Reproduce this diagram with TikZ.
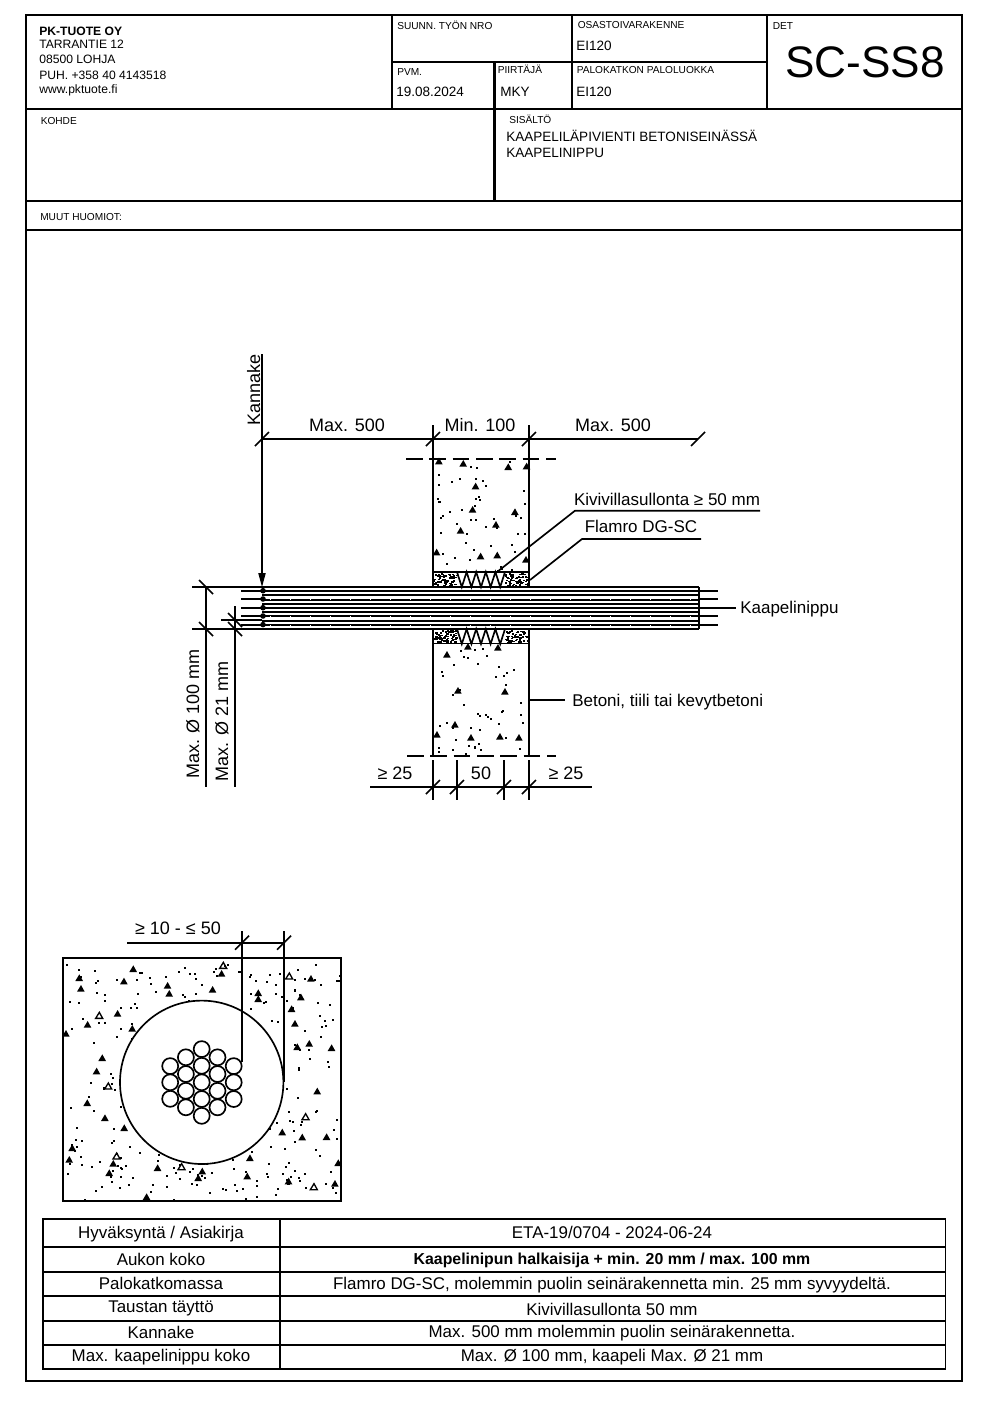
\documentclass[tikz,border=0pt]{standalone}
\usepackage{fontspec}
\setmainfont{Liberation Sans}

\newcommand{\dimslash}[1]{\draw[thinline] (#1) +(-7,7) -- +(7,-7);}
\newcommand{\dimback}[1]{\draw[thinline] (#1) +(-7,-7) -- +(7,7);}
\newcommand{\sealzig}[1]{\draw[thinline] (457,#1) \foreach \t in {1,...,5} {-- ++(4.8,15) -- ++(4.8,-15)};}
\newcommand{\sealdots}[3]{\foreach \t in {1,...,75} {
    \pgfmathsetmacro{\dotx}{#1+rnd*23.5}
    \pgfmathsetmacro{\doty}{#2+rnd*#3}
    \fill (\dotx,\doty) rectangle ++(2,1.5);}}
\newcommand{\rnddots}[5]{\foreach \t in {1,...,#5} {
    \pgfmathsetmacro{\dotx}{#1+rnd*#3}
    \pgfmathsetmacro{\doty}{#2+rnd*#4}
    \fill (\dotx,\doty) rectangle ++(2,2);}}

\begin{document}
\begin{tikzpicture}[x=.75pt,y=-.75pt,
    heavy/.style={line width=1.9pt},
    frameline/.style={line width=1.2pt},
    tableline/.style={line width=1.4pt},
    thinline/.style={line width=1.25pt},
    cable/.style={line width=1.5pt},
    cutline/.style={line width=1.25pt,dash pattern=on 12.5pt off 5pt},
    small text/.style={font=\fontsize{7.6}{8}\selectfont,anchor=base west,inner sep=0pt},
    head text/.style={font=\fontsize{9.1}{10}\selectfont,anchor=base west,inner sep=0pt},
    field text/.style={font=\fontsize{10.15}{11}\selectfont,anchor=base west,inner sep=0pt},
    dim text/.style={font=\fontsize{13.5}{14}\selectfont,anchor=base,inner sep=0pt},
    note text/.style={font=\fontsize{12.75}{14}\selectfont,anchor=base,inner sep=0pt},
    row text/.style={font=\fontsize{12.7}{14}\selectfont,anchor=base,inner sep=0pt}]

  \useasboundingbox (0,0) rectangle (992,1403);
  \fill[white] (0,0) rectangle (992,1403);

  % title block
  \draw[frameline] (26,15) rectangle (962,1381);
  \draw[heavy] (26,15) rectangle (962,230);
  \draw[heavy] (26,109) -- (962,109);
  \draw[heavy] (26,201) -- (962,201);
  \draw[heavy] (392,15) -- (392,109);
  \draw[heavy] (392,62) -- (767,62);
  \draw[heavy] (494.5,62) -- (494.5,201);
  \draw[heavy] (572,15) -- (572,109);
  \draw[heavy] (767,15) -- (767,109);

  \node[head text,font=\fontsize{9.1}{10}\selectfont\bfseries] (firm) at (39,35.5) {PK-TUOTE OY};
  \node[head text] (street) at (39,48.5) {TARRANTIE 12};
  \node[head text] (city) at (39,63.5) {08500 LOHJA};
  \node[head text] (phone) at (39,79) {PUH. +358 40 4143518};
  \node[head text] (web) at (39,93) {www.pktuote.fi};

  \node[small text] (suunn) at (397,29) {SUUNN. TYÖN NRO};
  \node[small text] (pvm) at (397,75) {PVM.};
  \node[field text] (date) at (396,96) {19.08.2024};
  \node[small text] (piirtaja) at (497.5,73.5) {PIIRTÄJÄ};
  \node[field text] (drawer) at (500,96) {MKY};
  \node[small text] (osasto) at (577.5,28) {OSASTOIVARAKENNE};
  \node[field text] (osastoval) at (576,50) {EI120};
  \node[small text] (paloluokka) at (576.5,73.5) {PALOKATKON PALOLUOKKA};
  \node[field text] (palovalue) at (576,96.5) {EI120};
  \node[small text] (det) at (772.5,29) {DET};
  \node[anchor=base west,inner sep=0pt,font=\fontsize{33.1}{34}\selectfont] (detno) at (785,77) {SC-SS8};
  \node[small text] (kohde) at (40.5,124) {KOHDE};
  \node[small text] (sisalto) at (509,123) {SISÄLTÖ};
  \node[field text] (sisaltoa) at (506,141.5) {KAAPELILÄPIVIENTI BETONISEINÄSSÄ};
  \node[field text] (sisaltob) at (506,157.5) {KAAPELINIPPU};
  \node[small text] (muut) at (40,220) {MUUT HUOMIOT:};

  % wall section
  \pgfmathsetseed{41}
  \rnddots{435}{461}{92}{110}{48}
  \rnddots{435}{645}{92}{110}{48}
  \begin{scope}[shift={(420,410)},x=.25pt,y=-.25pt]
    \foreach \p in {(57,155),(130,162),(265,172),(320,170),(167,230),(158,300),(285,307),
        (228,345),(122,363),(50,428),(182,440),(232,437),(318,450)}
      \fill \p +(-12,8) -- +(0,-12) -- +(11,8) -- cycle;
  \end{scope}
  \begin{scope}[x=.25pt,y=-.25pt]
    \foreach \p in {(1341,1965),(1404,1941),(1494,1944),(1374,2073),(1515,2076),(1365,2175),
        (1311,2205),(1413,2214),(1500,2211),(1557,2214)}
      \fill \p +(-12,8) -- +(0,-12) -- +(11,8) -- cycle;
  \end{scope}

  \sealdots{433}{573}{13}
  \sealdots{505}{573}{13}
  \sealdots{433}{630}{12}
  \sealdots{505}{630}{12}
  \sealzig{572}
  \sealzig{629}

  \draw[thinline] (433,425) -- (433,587);
  \draw[thinline] (529,425) -- (529,587);
  \draw[thinline] (433,629) -- (433,756);
  \draw[thinline] (529,629) -- (529,756);
  \draw[thinline] (433,572) -- (529,572);
  \draw[thinline] (433,643.5) -- (529,643.5);
  \draw[cutline] (406,459) -- (556,459);
  \draw[cutline] (407,756) -- (556,756);

  % cable bundle
  \foreach \n in {0,...,10}
    \draw[cable] (262,{587+\n*4.2}) -- (699,{587+\n*4.2});
  \foreach \n in {598.9,616,625}
    \draw[white,line width=.6pt,dash pattern=on 1pt off 14pt] (270,\n) -- (695,\n);
  \foreach \n in {590.7,599,607.7,616,624.6} {
    \draw[cable] (241,\n) -- (262,\n);
    \fill (263,\n) circle (2.8);
  }
  \foreach \n in {590.7,599,616,624.6}
    \draw[cable] (699,\n) -- (718,\n);
  \draw[heavy] (699,587) -- (699,629);

  % dimensions
  \coordinate (kantop) at (262,354);
  \coordinate (kantip) at (262,587);
  \coordinate (dimend) at (698,439);
  \coordinate (dimleft) at (262,439);
  \coordinate (dimwalla) at (433,439);
  \coordinate (dimwallb) at (529,439);
  \draw[thinline] (kantop) -- (262,574);
  \fill (258.2,573) -- (265.8,573) -- (kantip) -- cycle;
  \draw[thinline] (dimleft) -- (dimend);
  \dimslash{dimleft}
  \dimslash{dimwalla}
  \dimslash{dimwallb}
  \dimslash{dimend}
  \node[dim text,rotate=90] (kannake) at (260,390) {Kannake};
  \node[dim text] (maxa) at (347,431) {Max. 500};
  \node[dim text] (minb) at (480,431) {Min. 100};
  \node[dim text] (maxc) at (613,431) {Max. 500};

  \coordinate (lowa) at (433,787);
  \coordinate (lowb) at (457,787);
  \coordinate (lowc) at (504,787);
  \coordinate (lowd) at (529,787);
  \draw[thinline] (370,787) -- (592,787);
  \foreach \q in {lowa,lowb,lowc,lowd} {
    \draw[thinline] (\q) +(0,-27) -- +(0,13);
    \dimslash{\q}
  }
  \node[dim text] (gea) at (395,779) {≥ 25};
  \node[dim text] (mid) at (481,779) {50};
  \node[dim text] (geb) at (566,779) {≥ 25};

  \coordinate (bunta) at (206,587);
  \coordinate (buntb) at (206,629);
  \coordinate (cabta) at (235,620);
  \coordinate (cabtb) at (235,629);
  \draw[thinline] (192,587) -- (262,587);
  \draw[thinline] (192,629) -- (262,629);
  \draw[thinline] (221,620) -- (262,620);
  \draw[thinline] (bunta) -- (206,787);
  \draw[thinline] (235,606) -- (235,787);
  \dimback{bunta}
  \dimback{buntb}
  \dimback{cabta}
  \dimback{cabtb}
  \node[dim text,rotate=90] (maxbundle) at (199,714) {Max. Ø 100 mm};
  \node[dim text,rotate=90] (maxcable) at (228,721.5) {Max. Ø 21 mm};

  % leaders
  \coordinate (kivitip) at (497,572);
  \coordinate (kivibend) at (575,510.7);
  \coordinate (kiviend) at (760,510.7);
  \coordinate (flamtip) at (530,580);
  \coordinate (flambend) at (582,539);
  \coordinate (flamend) at (701,539);
  \coordinate (bundtip) at (699,607.7);
  \coordinate (betotip) at (529,700);
  \draw[thinline] (kivitip) -- (kivibend) -- (kiviend);
  \draw[thinline] (flamtip) -- (flambend) -- (flamend);
  \node[note text] (kivi) at (667,505) {Kivivillasullonta ≥ 50 mm};
  \node[note text] (flamro) at (641,532.5) {Flamro DG-SC};
  \node[note text,anchor=base west] (kaapeli) at (740,613) {Kaapelinippu};
  \node[note text,anchor=base west] (betoni) at (572,706) {Betoni, tiili tai kevytbetoni};
  \draw[cable] (bundtip) -- ([xshift=-3pt]kaapeli.west |- bundtip);
  \draw[thinline] (betotip) -- (565,700);

  % opening seen from the front
  \pgfmathsetseed{17}
  \rnddots{64}{959}{275}{240}{300}
  \begin{scope}[shift={(50,910)},x=.25pt,y=-.25pt]
    \foreach \p in {(250,178),(88,205),(93,237),(222,215),(353,228),(358,252),(488,240),(515,192),
        (625,250),(625,268),(783,207),(753,263),(725,298),(203,312),(113,345),(247,357),(48,372),
        (157,445),(140,485),(112,580),(165,625),(223,655),(67,715),(58,750),(190,762),(178,790),
        (323,775),(457,785),(445,805),(600,745),(592,800),(716,815),(855,822),(865,760),(830,682),
        (757,683),(697,668),(802,545),(778,402),(742,412),(845,415),(735,342),(290,862)}
      \fill \p +(-12,8) -- +(0,-12) -- +(11,8) -- cycle;
    \foreach \p in {(520,168),(718,200),(148,318),(175,530),(200,740),(395,772),(767,622),(792,832)}
      \draw[line width=1pt] \p +(-11,7) -- +(0,-11) -- +(10,7) -- cycle;
  \end{scope}
  \draw[thinline] (62.7,957.7) rectangle (341,1201);
  \node[circle,draw,line width=1.25pt,fill=white,minimum size=163.4*.75pt,inner sep=0pt] (opening) at (201.7,1082.3) {};

  \foreach \cx/\cy in {-31.5/-16.2,-31.5/0,-31.5/16.5,
                       -15.8/-25,-15.8/-8.3,-15.8/8.5,-15.8/25,
                       0/-33.2,0/-16.5,0/0,0/16.7,0/33.5,
                       15.8/-25,15.8/-8.3,15.8/8.5,15.8/25,
                       32/-16.2,32/0,32/16.7}
    \draw[thinline] ({201.7+\cx},{1082.3+\cy}) circle (8);

  \coordinate (gapa) at (242,942.7);
  \coordinate (gapb) at (284,942.7);
  \coordinate (gapc) at (127,942.7);
  \draw[thinline] (gapc) -- (gapb);
  \draw[thinline] (242,931) -- (242,1062);
  \draw[thinline] (284,931) -- (284,1082);
  \dimslash{gapa}
  \dimslash{gapb}
  \node[dim text] (gaptext) at (178,934) {≥ 10 - ≤ 50};

  % table
  \draw[tableline] (43,1219) rectangle (945.5,1369);
  \foreach \y in {1247,1272,1296,1321,1345}
    \draw[tableline] (43,\y) -- (945.5,\y);
  \draw[tableline] (280,1219) -- (280,1369);

  \node[row text] (rowa) at (161,1238) {Hyväksyntä / Asiakirja};
  \node[row text] (rowb) at (161,1265) {Aukon koko};
  \node[row text] (rowc) at (161,1289) {Palokatkomassa};
  \node[row text] (rowd) at (161,1312.7) {Taustan täyttö};
  \node[row text] (rowe) at (161,1338) {Kannake};
  \node[row text] (rowf) at (161,1361.7) {Max. kaapelinippu koko};

  \node[row text] (vala) at (612,1238) {ETA-19/0704 - 2024-06-24};
  \node[row text,font=\fontsize{11.9}{14}\selectfont\bfseries] (valb) at (612,1264) {Kaapelinipun halkaisija + min. 20 mm / max. 100 mm};
  \node[row text] (valc) at (612,1289) {Flamro DG-SC, molemmin puolin seinärakennetta min. 25 mm syvyydeltä.};
  \node[row text] (vald) at (612,1315) {Kivivillasullonta 50 mm};
  \node[row text] (vale) at (612,1337) {Max. 500 mm molemmin puolin seinärakennetta.};
  \node[row text] (valf) at (612,1361.7) {Max. Ø 100 mm, kaapeli Max. Ø 21 mm};

\end{tikzpicture}
\end{document}
